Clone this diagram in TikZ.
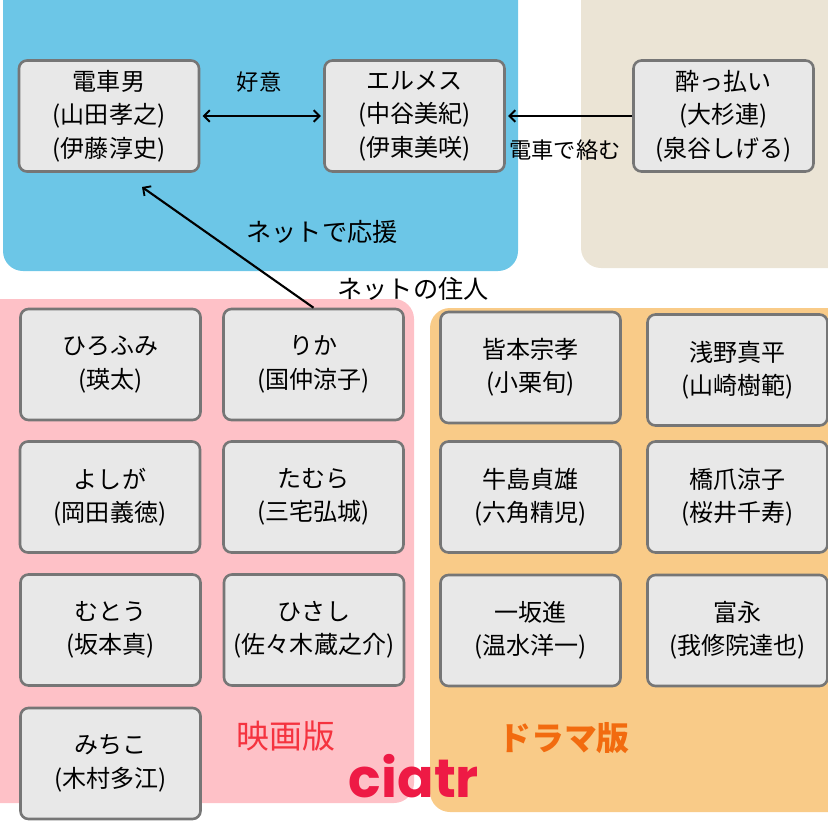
\documentclass[tikz,border=0pt]{standalone}
\usepackage{fontspec}
\setmainfont{Noto Sans CJK JP}
\newfontfamily\logofont{Poppins}
\usepackage{xcolor}
\usetikzlibrary{arrows.meta}

\definecolor{netblue}{HTML}{6CC6E7}
\definecolor{drunkbeige}{HTML}{EBE4D5}
\definecolor{moviepink}{HTML}{FEC1C7}
\definecolor{dramaorange}{HTML}{F9CB88}
\definecolor{boxfill}{HTML}{E8E8E8}
\definecolor{boxline}{HTML}{767676}
\definecolor{movietext}{HTML}{F5333F}
\definecolor{dramatext}{HTML}{F26B0F}
\definecolor{logored}{HTML}{EE1A45}

\begin{document}
\begin{tikzpicture}[x=0.03cm, y=-0.03cm,
    >={Straight Barb[length=5pt, width=10pt, line width=1.6pt]},
    person/.style={draw=boxline, line width=2.2pt, fill=boxfill,
      rounded corners=0.24cm, minimum width=5.4cm, minimum height=3.33cm,
      align=center, inner sep=2pt, font=\fontsize{20.5}{28.5}\selectfont},
    lbl/.style={inner sep=1pt, font=\fontsize{19}{28}\selectfont},
    netlbl/.style={inner sep=1pt, font=\fontsize{21.5}{28}\selectfont},
    link/.style={line width=1.8pt, black}]

  \useasboundingbox (0,0) rectangle (828,828);
  \clip (0,0) rectangle (828,828);

  % ── background panels ────────────────────────────────────────────────────
  \fill[netblue, rounded corners=0.6cm] (3,-30) rectangle (518,271);
  \fill[drunkbeige, rounded corners=0.6cm] (581,-30) rectangle (860,268);
  \fill[moviepink, rounded corners=0.6cm] (-30,299) rectangle (414,803);
  \fill[dramaorange, rounded corners=0.6cm] (430,308) rectangle (860,812);

  % ── main characters ──────────────────────────────────────────────────────
  \node[person] (densha) at (109,116) {電車男\\(山田孝之)\\(伊藤淳史)};
  \node[person] (elmes) at (414.5,116) {エルメス\\(中谷美紀)\\(伊東美咲)};
  \node[person] (drunk) at (723.5,116) {酔っ払い\\(大杉連)\\(泉谷しげる)};

  % ── movie cast (left) and drama cast (right) ─────────────────────────────
  \foreach \nm/\px/\py/\txt in {
      hirofumi/110.5/364.5/{ひろふみ\\(瑛太)},
      rika/313.5/364.5/{りか\\(国仲涼子)},
      yoshiga/110/497/{よしが\\(岡田義徳)},
      tamura/313.5/497/{たむら\\(三宅弘城)},
      muto/110.5/630/{むとう\\(坂本真)},
      hisashi/314/630/{ひさし\\(佐々木蔵之介)},
      michiko/110.5/763.5/{みちこ\\(木村多江)},
      minamoto/530.5/367.5/{皆本宗孝\\(小栗旬)},
      asano/737.5/370/{浅野真平\\(山崎樹範)},
      ushijima/530.5/497/{牛島貞雄\\(六角精児)},
      hashizume/737.5/497/{橋爪涼子\\(桜井千寿)},
      ichisaka/530.5/630.5/{一坂進\\(温水洋一)},
      tominaga/737.5/630.5/{富永\\(我修院達也)}}{
    \node[person] (\nm) at (\px,\py) {\txt};
  }

  % ── relations ────────────────────────────────────────────────────────────
  \draw[link, <->, shorten <=2pt, shorten >=2pt] (densha) -- (elmes);
  \node[lbl] (koui) at (259,82) {好意};

  \draw[link, ->, shorten >=2pt] (drunk) -- (elmes);
  \node[lbl] (karamu) at (565,150) {電車で絡む};

  \coordinate (cheer) at (142,187);
  \draw[link, ->] (rika.north) -- (cheer);
  \node[netlbl] (ouen) at (322,232) {ネットで応援};
  \node[netlbl] (junin) at (413,289) {ネットの住人};

  % ── version labels and logo ──────────────────────────────────────────────
  \node[movietext, font=\fontsize{28}{32}\selectfont] (movie) at (286,736) {映画版};
  \node[dramatext, font=\fontsize{28}{32}\selectfont\bfseries] (drama) at (564,738) {ドラマ版};
  \node[logored, anchor=base, inner sep=0pt, font=\logofont\bfseries\fontsize{46}{50}\selectfont] (logo) at (414,797) {ciatr};

\end{tikzpicture}
\end{document}
